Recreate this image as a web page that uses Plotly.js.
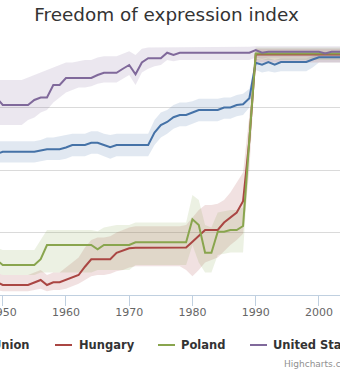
<!DOCTYPE html>
<html>
<head>
<meta charset="utf-8">
<script src="https://cdn.plot.ly/plotly-3.0.1.min.js"></script>
<style>html,body{margin:0;padding:0;background:#fff;}#chart{width:340px;height:372px;}</style>
</head>
<body>
<div id="chart"></div>
<script>
var years = [1948,1949,1950,1951,1952,1953,1954,1955,1956,1957,
             1958,1959,1960,1961,1962,1963,1964,1965,1966,1967,
             1968,1969,1970,1971,1972,1973,1974,1975,1976,1977,
             1978,1979,1980,1981,1982,1983,1984,1985,1986,1987,
             1988,1989,1990,1991,1992,1993,1994,1995,1996,1997,
             1998,1999,2000,2001,2002,2003,2004,2005];
var tickYears = [1950,1960,1970,1980,1990,2000];
var seriesNames = ['Soviet Union','Hungary','Poland','United States'];
var seriesColors = ['#4572A7','#AA4643','#89A54E','#80699B'];

// Soviet Union
var sovietLine = [0.56,0.564,0.573,0.573,0.573,0.573,0.573,0.573,0.578,0.583,
                  0.583,0.583,0.59,0.6,0.6,0.6,0.609,0.609,0.6,0.591,
                  0.6,0.6,0.6,0.6,0.6,0.6,0.65,0.68,0.692,0.711,
                  0.72,0.72,0.73,0.74,0.74,0.74,0.74,0.75,0.75,0.76,
                  0.763,0.787,0.929,0.921,0.932,0.921,0.932,0.932,0.932,0.932,
                  0.932,0.942,0.951,0.951,0.951,0.951,0.951,0.951];
var sovietHigh = [0.615,0.615,0.615,0.615,0.615,0.615,0.615,0.615,0.62,0.63,
                  0.63,0.635,0.64,0.645,0.645,0.645,0.655,0.655,0.645,0.64,
                  0.645,0.645,0.645,0.645,0.645,0.645,0.70,0.73,0.74,0.76,
                  0.77,0.77,0.775,0.785,0.785,0.785,0.785,0.79,0.79,0.80,
                  0.805,0.825,0.945,0.94,0.947,0.94,0.947,0.947,0.947,0.947,
                  0.947,0.955,0.965,0.965,0.965,0.965,0.965,0.965];
var sovietLow  = [0.53,0.53,0.53,0.53,0.53,0.53,0.53,0.53,0.535,0.54,
                  0.54,0.54,0.545,0.555,0.555,0.555,0.565,0.565,0.555,0.545,
                  0.555,0.555,0.555,0.555,0.555,0.555,0.60,0.63,0.645,0.665,
                  0.675,0.675,0.685,0.695,0.695,0.695,0.695,0.705,0.705,0.715,
                  0.72,0.75,0.90,0.89,0.895,0.89,0.895,0.895,0.895,0.895,
                  0.895,0.91,0.93,0.93,0.93,0.93,0.93,0.93];

// Hungary
var hungaryLine = [0.05,0.053,0.04,0.04,0.04,0.04,0.04,0.05,0.06,0.04,
                   0.051,0.051,0.06,0.07,0.08,0.113,0.143,0.143,0.143,0.143,
                   0.169,0.178,0.187,0.189,0.189,0.189,0.189,0.189,0.189,0.189,
                   0.189,0.19,0.213,0.237,0.26,0.26,0.26,0.29,0.31,0.33,
                   0.375,0.62,0.962,0.962,0.962,0.962,0.962,0.962,0.962,0.962,
                   0.962,0.962,0.962,0.962,0.962,0.962,0.962,0.962];
var hungaryHigh = [0.09,0.09,0.08,0.08,0.08,0.08,0.08,0.09,0.10,0.08,
                   0.09,0.09,0.11,0.13,0.15,0.19,0.22,0.23,0.23,0.235,
                   0.25,0.26,0.27,0.275,0.275,0.275,0.275,0.275,0.275,0.275,
                   0.275,0.28,0.31,0.34,0.36,0.36,0.365,0.38,0.41,0.45,
                   0.49,0.72,0.985,0.985,0.985,0.985,0.985,0.985,0.985,0.985,
                   0.985,0.985,0.985,0.985,0.985,0.985,0.985,0.985];
var hungaryLow  = [0.015,0.02,0.015,0.015,0.015,0.015,0.015,0.02,0.025,0.015,
                   0.02,0.02,0.025,0.035,0.045,0.06,0.075,0.08,0.08,0.085,
                   0.095,0.10,0.11,0.115,0.115,0.115,0.115,0.115,0.115,0.115,
                   0.115,0.10,0.075,0.10,0.13,0.14,0.15,0.175,0.20,0.22,
                   0.245,0.50,0.93,0.93,0.93,0.93,0.93,0.93,0.93,0.93,
                   0.93,0.93,0.93,0.93,0.93,0.93,0.93,0.93];

// Poland
var polandLine = [0.14,0.14,0.12,0.12,0.12,0.12,0.12,0.12,0.143,0.2,
                  0.2,0.2,0.2,0.2,0.2,0.2,0.2,0.183,0.2,0.2,
                  0.2,0.2,0.2,0.211,0.211,0.211,0.211,0.211,0.211,0.211,
                  0.211,0.211,0.303,0.28,0.169,0.169,0.253,0.253,0.26,0.26,
                  0.276,0.64,0.966,0.966,0.966,0.966,0.966,0.966,0.966,0.966,
                  0.966,0.966,0.966,0.966,0.966,0.966,0.966,0.966];
var polandHigh = [0.19,0.19,0.18,0.18,0.18,0.18,0.18,0.18,0.22,0.26,
                  0.26,0.26,0.26,0.26,0.26,0.26,0.26,0.255,0.27,0.275,
                  0.28,0.28,0.28,0.29,0.29,0.29,0.29,0.29,0.29,0.29,
                  0.29,0.29,0.40,0.38,0.28,0.27,0.33,0.335,0.34,0.34,
                  0.35,0.70,0.99,0.99,0.99,0.99,0.99,0.99,0.99,0.99,
                  0.99,0.99,0.99,0.99,0.99,0.99,0.99,0.99];
var polandLow  = [0.09,0.09,0.08,0.08,0.08,0.08,0.08,0.08,0.09,0.09,
                  0.09,0.09,0.09,0.09,0.09,0.09,0.09,0.10,0.10,0.10,
                  0.10,0.10,0.10,0.12,0.12,0.12,0.12,0.12,0.12,0.12,
                  0.12,0.12,0.20,0.13,0.09,0.09,0.16,0.165,0.17,0.17,
                  0.17,0.56,0.94,0.94,0.94,0.94,0.94,0.94,0.94,0.94,
                  0.94,0.94,0.94,0.94,0.94,0.94,0.94,0.94];

// United States
var usLine = [0.79,0.79,0.76,0.76,0.76,0.76,0.76,0.78,0.79,0.79,
              0.84,0.84,0.868,0.868,0.868,0.868,0.868,0.88,0.889,0.889,
              0.889,0.905,0.92,0.883,0.93,0.947,0.947,0.947,0.969,0.96,
              0.969,0.969,0.969,0.969,0.969,0.969,0.969,0.969,0.969,0.969,
              0.969,0.969,0.98,0.969,0.973,0.973,0.973,0.973,0.973,0.973,
              0.973,0.973,0.973,0.966,0.973,0.973,0.973,0.973];
var usHigh = [0.86,0.86,0.86,0.86,0.86,0.86,0.87,0.88,0.89,0.90,
              0.91,0.92,0.93,0.93,0.935,0.94,0.94,0.95,0.955,0.955,
              0.955,0.965,0.975,0.96,0.985,0.99,0.99,0.99,0.993,0.99,
              0.993,0.993,0.993,0.993,0.993,0.993,0.993,0.993,0.993,0.993,
              0.993,0.993,0.995,0.995,0.995,0.995,0.995,0.995,0.995,0.995,
              0.995,0.995,0.995,0.995,0.995,0.995,0.995,0.995];
var usLow  = [0.68,0.68,0.68,0.68,0.68,0.68,0.70,0.71,0.73,0.74,
              0.77,0.79,0.81,0.82,0.83,0.83,0.835,0.845,0.85,0.85,
              0.85,0.865,0.88,0.84,0.89,0.905,0.915,0.92,0.94,0.935,
              0.94,0.94,0.94,0.94,0.94,0.94,0.94,0.94,0.94,0.94,
              0.94,0.94,0.95,0.945,0.95,0.95,0.95,0.95,0.95,0.95,
              0.95,0.95,0.95,0.95,0.95,0.95,0.95,0.95];

var lines = [sovietLine, hungaryLine, polandLine, usLine];
var highs = [sovietHigh, hungaryHigh, polandHigh, usHigh];
var lows  = [sovietLow, hungaryLow, polandLow, usLow];

function rgba(hex, a) {
  var r = parseInt(hex.substr(1,2),16), g = parseInt(hex.substr(3,2),16), b = parseInt(hex.substr(5,2),16);
  return 'rgba(' + r + ',' + g + ',' + b + ',' + a + ')';
}

var traces = [];
for (var i = 0; i < 4; i++) {
  traces.push({x: years, y: lows[i], type: 'scatter', mode: 'lines', line: {width: 0, color: seriesColors[i]},
               showlegend: false, hoverinfo: 'skip'});
  traces.push({x: years, y: highs[i], type: 'scatter', mode: 'lines', line: {width: 0, color: seriesColors[i]},
               fill: 'tonexty', fillcolor: rgba(seriesColors[i], 0.16), showlegend: false, hoverinfo: 'skip'});
}
for (var j = 0; j < 4; j++) {
  traces.push({x: years, y: lines[j], type: 'scatter', mode: 'lines', name: seriesNames[j],
               line: {width: 2, color: seriesColors[j]}, showlegend: false});
}

// layout geometry (pixels -> paper)
var W = 340, H = 372, plotTop = 45, plotBottom = 295;
function px(x) { return x / W; }
function py(y) { return (plotBottom - y) / (plotBottom - plotTop); }

var legendY = 345;
var legendItems = [
  {name: 0, lineX: null, textRight: 30},
  {name: 1, lineX: 55, textLeft: 78},
  {name: 2, lineX: 158, textLeft: 180},
  {name: 3, lineX: 250, textLeft: 272}
];
var legendFont = {family: 'DejaVu Sans', size: 11.5, color: '#333', weight: 'bold'};
var annotations = [], shapes = [];
legendItems.forEach(function (it) {
  if (it.lineX !== null) {
    shapes.push({type: 'line', xref: 'paper', yref: 'paper', x0: px(it.lineX), x1: px(it.lineX + 17),
                 y0: py(legendY), y1: py(legendY), line: {color: seriesColors[it.name], width: 2}});
    annotations.push({xref: 'paper', yref: 'paper', x: px(it.textLeft), y: py(legendY), xanchor: 'left', yanchor: 'middle',
                      text: seriesNames[it.name], showarrow: false, borderpad: 0, font: legendFont});
  } else {
    annotations.push({xref: 'paper', yref: 'paper', x: px(it.textRight), y: py(legendY), xanchor: 'right', yanchor: 'middle',
                      text: seriesNames[it.name], showarrow: false, borderpad: 0, font: legendFont});
  }
});
annotations.push({xref: 'paper', yref: 'paper', x: px(283), y: py(364), xanchor: 'left', yanchor: 'middle',
                  text: 'Highcharts.com', showarrow: false, borderpad: 0,
                  font: {family: 'DejaVu Sans', size: 9, color: '#909090'}});

var layout = {
  width: W, height: H,
  margin: {l: 0, r: 0, t: plotTop, b: H - plotBottom, pad: 0},
  paper_bgcolor: '#fff', plot_bgcolor: '#fff',
  showlegend: false,
  title: {text: 'Freedom of expression index', x: 0.49, xanchor: 'center', xref: 'container',
          y: 1 - 15 / H, yanchor: 'middle', yref: 'container',
          font: {family: 'DejaVu Sans', size: 18.4, color: '#333'}},
  xaxis: {range: [1949.57, 2003.33], tickmode: 'array', tickvals: tickYears, ticktext: tickYears.map(String),
          ticks: 'outside', ticklen: 10, tickwidth: 1, tickcolor: '#C0D0E0', ticklabeloverflow: 'allow',
          ticklabelstandoff: -3,
          showline: true, linecolor: '#C0D0E0', linewidth: 1, showgrid: false, zeroline: false,
          tickfont: {family: 'DejaVu Sans', size: 11, color: '#666'}, fixedrange: true},
  yaxis: {range: [0, 1], tick0: 0, dtick: 0.25, showticklabels: false, ticks: '',
          showgrid: true, gridcolor: '#DADADA', gridwidth: 1, zeroline: false, showline: false, fixedrange: true},
  annotations: annotations,
  shapes: shapes
};

Plotly.newPlot('chart', traces, layout, {displayModeBar: false, staticPlot: true});
</script>
</body>
</html>
